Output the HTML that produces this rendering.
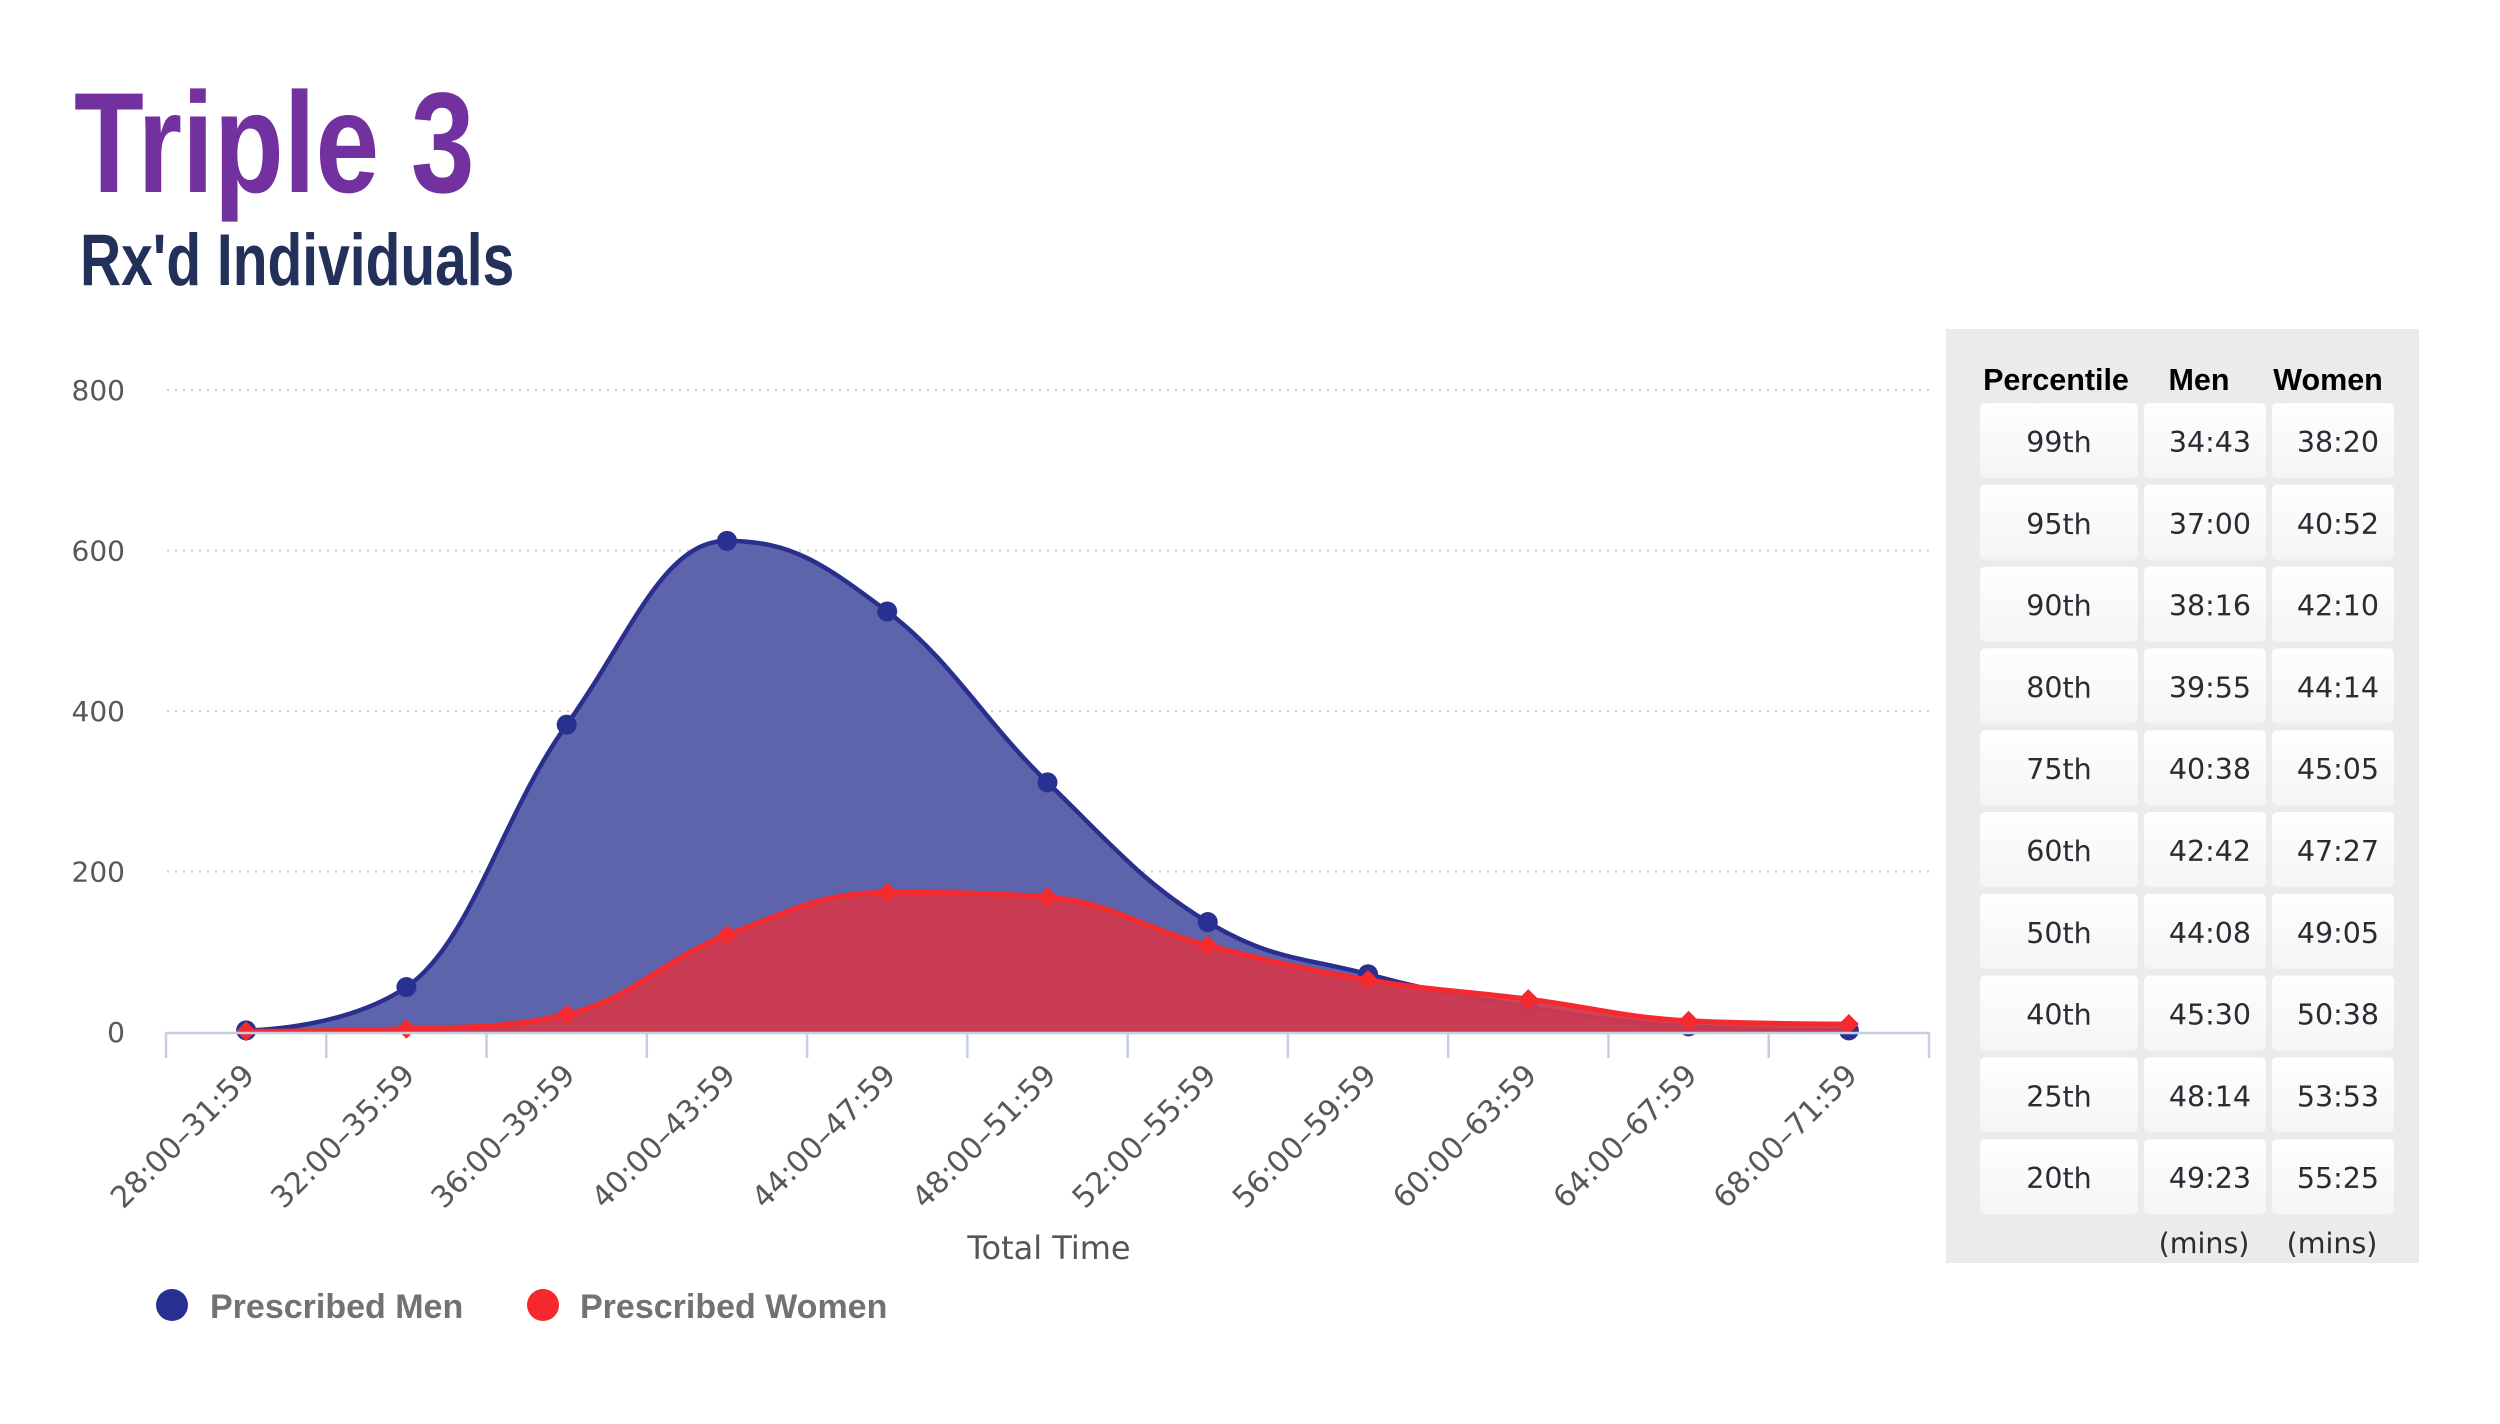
<!DOCTYPE html>
<html>
<head>
<meta charset="utf-8">
<style>
  html, body { margin: 0; padding: 0; background: #ffffff; }
  body { width: 2500px; height: 1424px; overflow: hidden; }
  svg { display: block; }
  .ylab { font-family: "DejaVu Sans", "Liberation Sans", sans-serif; font-size: 28px; fill: #585858; }
  .xlab { font-family: "DejaVu Sans", "Liberation Sans", sans-serif; font-size: 30px; fill: #585858; }
  .cell { font-family: "DejaVu Sans", "Liberation Sans", sans-serif; font-size: 28.5px; fill: #2b2b33; }
  .hdr { font-family: "Liberation Sans", sans-serif; font-weight: bold; font-size: 30.5px; fill: #000; }
  .leg { font-family: "Liberation Sans", sans-serif; font-weight: bold; font-size: 34px; fill: #727272; }
</style>
</head>
<body>
<svg id="chart" width="2500" height="1424" viewBox="0 0 2500 1424" xmlns="http://www.w3.org/2000/svg">
  <defs>
    <linearGradient id="cellg" x1="0" y1="0" x2="0" y2="1">
      <stop offset="0" stop-color="#fefefe"/>
      <stop offset="1" stop-color="#f5f5f5"/>
    </linearGradient>
  </defs>
  <rect x="0" y="0" width="2500" height="1424" fill="#ffffff"/>

  <!-- Titles -->
  <text transform="translate(74,192) scale(0.80,1)" font-family="Liberation Sans, sans-serif" font-weight="bold" font-size="143" fill="#7331a0">Triple 3</text>
  <text transform="translate(80,285) scale(0.78,1)" font-family="Liberation Sans, sans-serif" font-weight="bold" font-size="73" fill="#23305a">Rx'd Individuals</text>

  <!-- Grid lines -->
  <g stroke="#cfcfcf" stroke-width="2" stroke-dasharray="2,6">
    <line x1="167" y1="390" x2="1929" y2="390"/>
    <line x1="167" y1="550.5" x2="1929" y2="550.5"/>
    <line x1="167" y1="711" x2="1929" y2="711"/>
    <line x1="167" y1="871.5" x2="1929" y2="871.5"/>
  </g>

  <!-- Y labels -->
  <g class="ylab" text-anchor="end">
    <text x="125" y="400">800</text>
    <text x="125" y="560.5">600</text>
    <text x="125" y="721">400</text>
    <text x="125" y="881.5">200</text>
    <text x="125" y="1042">0</text>
  </g>

  <g id="series"></g>

  <!-- Axis line & ticks -->
  <g id="axis" stroke="#c4d0e2" stroke-width="2.5"></g>
  <g id="xlabels" class="xlab" text-anchor="end"></g>

  <text x="1049" y="1259" text-anchor="middle" font-family="DejaVu Sans, Liberation Sans, sans-serif" font-size="32" fill="#555">Total Time</text>

  <!-- Legend -->
  <circle cx="172" cy="1305" r="16" fill="#283091"/>
  <text class="leg" x="210" y="1318">Prescribed Men</text>
  <circle cx="543" cy="1305" r="16" fill="#f5282d"/>
  <text class="leg" x="580" y="1318">Prescribed Women</text>

  <!-- Table panel -->
  <rect x="1946" y="329" width="473" height="934" fill="#ebebeb"/>
  <g class="hdr" text-anchor="middle">
    <text x="2056" y="390">Percentile</text>
    <text x="2199" y="390">Men</text>
    <text x="2328" y="390">Women</text>
  </g>
  <g id="table"></g>
  <g class="cell" text-anchor="middle">
    <text x="2204" y="1253">(mins)</text>
    <text x="2332" y="1253">(mins)</text>
  </g>
</svg>

<script>
(function(){
  var NS = "http://www.w3.org/2000/svg";
  var left = 166, right = 1929, n = 11;
  var cw = (right - left) / n;
  var axisY = 1032, perUnit = 160.5 / 200;
  function cx(i){ return left + cw/2 + cw*i; }
  function cy(v){ return axisY - v*perUnit; }

  var men = [2, 56, 383, 612, 524, 311, 137, 72, 31, 7, 2];
  var women = [1, 4, 22, 121, 174, 168, 108, 65, 41, 14, 10];
  var labels = ["28:00\u201331:59","32:00\u201335:59","36:00\u201339:59","40:00\u201343:59","44:00\u201347:59","48:00\u201351:59","52:00\u201355:59","56:00\u201359:59","60:00\u201363:59","64:00\u201367:59","68:00\u201371:59"];

  function el(tag, attrs, parent){
    var e = document.createElementNS(NS, tag);
    for (var k in attrs) e.setAttribute(k, attrs[k]);
    if (parent) parent.appendChild(e);
    return e;
  }

  function spline(pts){
    var d = "M" + pts[0][0].toFixed(2) + "," + pts[0][1].toFixed(2);
    var prev = null, N = pts.length;
    for (var i = 1; i < N; i++){
      var x = pts[i][0], y = pts[i][1], lx = pts[i-1][0], ly = pts[i-1][1];
      var lcx = x, lcy = y, rcx = null, rcy = null;
      if (i < N-1){
        var nx = pts[i+1][0], ny = pts[i+1][1];
        lcx = (1.5*x + lx)/2.5; lcy = (1.5*y + ly)/2.5;
        rcx = (1.5*x + nx)/2.5; rcy = (1.5*y + ny)/2.5;
        var corr = ((rcy - lcy)*(rcx - x))/(rcx - lcx) + y - rcy;
        lcy += corr; rcy += corr;
        if (lcy > ly && lcy > y){ lcy = Math.max(ly, y); rcy = 2*y - lcy; }
        else if (lcy < ly && lcy < y){ lcy = Math.min(ly, y); rcy = 2*y - lcy; }
        if (rcy > ny && rcy > y){ rcy = Math.max(ny, y); lcy = 2*y - rcy; }
        else if (rcy < ny && rcy < y){ rcy = Math.min(ny, y); lcy = 2*y - rcy; }
      }
      var p = prev || [lx, ly];
      d += " C" + p[0].toFixed(2) + "," + p[1].toFixed(2) + " " + lcx.toFixed(2) + "," + lcy.toFixed(2) + " " + x.toFixed(2) + "," + y.toFixed(2);
      prev = (i < N-1) ? [rcx, rcy] : null;
    }
    return d;
  }

  var g = document.getElementById("series");
  var mp = men.map(function(v,i){ return [cx(i), cy(v)]; });
  var wp = women.map(function(v,i){ return [cx(i), cy(v)]; });
  var md = spline(mp), wd = spline(wp);
  var close = function(d, pts){ return d + " L" + pts[pts.length-1][0].toFixed(2) + "," + axisY + " L" + pts[0][0].toFixed(2) + "," + axisY + " Z"; };

  el("path", {d: close(md, mp), fill: "#5d64ab"}, g);
  el("path", {d: md, fill: "none", stroke: "#2a2f8e", "stroke-width": 4.5, "stroke-linejoin": "round"}, g);
  mp.forEach(function(p){ el("circle", {cx: p[0], cy: p[1], r: 10, fill: "#283091"}, g); });

  el("path", {d: close(wd, wp), fill: "#d03a4f", "fill-opacity": 0.95}, g);
  el("path", {d: wd, fill: "none", stroke: "#f52a2f", "stroke-width": 5, "stroke-linejoin": "round"}, g);
  wp.forEach(function(p){
    var x = p[0], y = p[1], s = 10;
    el("path", {d: "M"+x+","+(y-s)+" L"+(x+s)+","+y+" L"+x+","+(y+s)+" L"+(x-s)+","+y+" Z", fill: "#f52a2f"}, g);
  });

  var ax = document.getElementById("axis");
  el("line", {x1: left, y1: axisY+1, x2: right, y2: axisY+1}, ax);
  for (var k = 0; k <= n; k++){
    var tx = left + cw*k;
    el("line", {x1: tx, y1: axisY, x2: tx, y2: axisY+26}, ax);
  }
  var xl = document.getElementById("xlabels");
  labels.forEach(function(t, i){
    var bx = cx(i) + 10, by = 1077;
    var e = el("text", {x: bx, y: by, transform: "rotate(-45 " + bx + " " + by + ")"}, xl);
    e.textContent = t;
  });

  var tbl = document.getElementById("table");
  var rows = [
    ["99th","34:43","38:20"],["95th","37:00","40:52"],["90th","38:16","42:10"],
    ["80th","39:55","44:14"],["75th","40:38","45:05"],["60th","42:42","47:27"],
    ["50th","44:08","49:05"],["40th","45:30","50:38"],["25th","48:14","53:53"],
    ["20th","49:23","55:25"]
  ];
  var cols = [[1980,158,2059],[2144,122,2210],[2272,122,2338]];
  rows.forEach(function(r, i){
    var top = 403 + 81.8*i;
    cols.forEach(function(c, j){
      el("rect", {x: c[0], y: top, width: c[1], height: 75, rx: 5, ry: 5, fill: "url(#cellg)"}, tbl);
      var t = el("text", {x: c[2], y: top + 49, "text-anchor": "middle", "class": "cell"}, tbl);
      t.textContent = r[j];
    });
  });
})();
</script>
</body>
</html>
